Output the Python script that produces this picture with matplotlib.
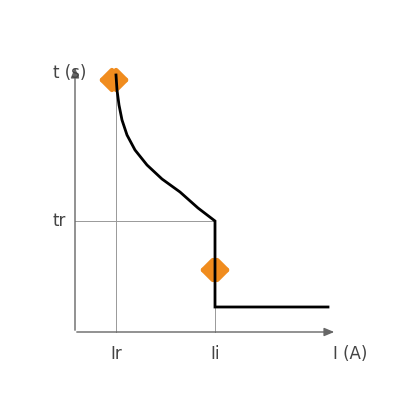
import matplotlib
matplotlib.use("Agg")
import matplotlib.pyplot as plt
from matplotlib.patches import FancyArrowPatch

# schematic trip curve (pixel-like units, y measured upward from bottom)
curve_x = [116, 117, 119, 122, 127, 135, 147, 162, 180, 198, 215, 215, 328]
curve_y = [325, 310, 295, 280, 265, 250, 235, 221, 208, 192, 179, 93, 93]
Ir_x, Ii_x, tr_y = 116, 215, 179
labels = {"t": "t (s)", "tr": "tr", "Ir": "Ir", "Ii": "Ii", "I": "I (A)"}

fig = plt.figure(figsize=(4, 4), dpi=100)
ax = fig.add_axes([0, 0, 1, 1])
ax.set_xlim(0, 400); ax.set_ylim(0, 400); ax.axis("off")

gray = "#666666"
ax.annotate("", xy=(75, 335), xytext=(75, 67),
            arrowprops=dict(arrowstyle="-|>,head_length=0.6,head_width=0.25", color=gray, lw=1))
ax.annotate("", xy=(337, 68), xytext=(74, 68),
            arrowprops=dict(arrowstyle="-|>,head_length=0.6,head_width=0.25", color=gray, lw=1))
ax.plot([Ir_x, Ir_x], [68, 325], color="#999999", lw=0.7)
ax.plot([75, Ii_x], [tr_y, tr_y], color="#999999", lw=0.7)
ax.plot([Ii_x, Ii_x], [68, tr_y], color="#999999", lw=0.7)
ax.plot(curve_x, curve_y, color="black", lw=2, solid_joinstyle="miter")

orange = "#f08c1e"
for (cx, cy) in [(114, 320), (215, 130)]:
    ax.add_patch(FancyArrowPatch((cx - 18, cy), (cx + 18, cy),
                 arrowstyle="<|-|>,head_length=7,head_width=7", color=orange, lw=3.5,
                 mutation_scale=1))

fs = 12
tc = "#444444"
ax.text(53, 327, labels["t"], fontsize=fs, color=tc, va="center", ha="left")
ax.text(59, tr_y, labels["tr"], fontsize=fs, color=tc, va="center", ha="center")
ax.text(Ir_x, 46, labels["Ir"], fontsize=fs, color=tc, va="center", ha="center")
ax.text(Ii_x, 46, labels["Ii"], fontsize=fs, color=tc, va="center", ha="center")
ax.text(350, 46, labels["I"], fontsize=fs, color=tc, va="center", ha="center")

fig.savefig("out.png", dpi=100)
